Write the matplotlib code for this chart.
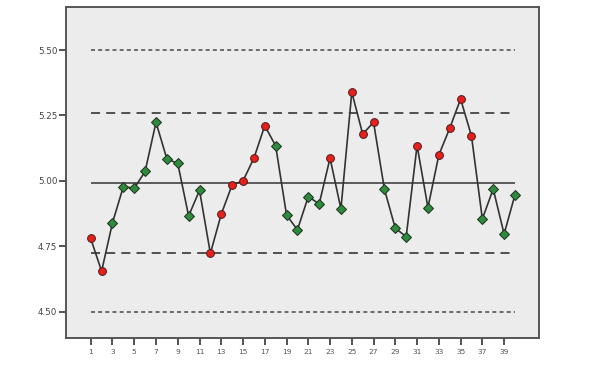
import matplotlib
matplotlib.use("Agg")
import matplotlib.pyplot as plt
import numpy as np

samples = list(range(1, 41))
values = [4.78, 4.655, 4.84, 4.978, 4.972, 5.036, 5.224, 5.084, 5.067, 4.866,
          4.964, 4.723, 4.873, 4.985, 5.00, 5.087, 5.211, 5.134, 4.870, 4.813,
          4.940, 4.912, 5.087, 4.893, 5.339, 5.179, 5.224, 4.968, 4.819, 4.787,
          5.135, 4.898, 5.099, 5.201, 5.313, 5.172, 4.855, 4.969, 4.797, 4.947]
groups = ['r', 'r', 'g', 'g', 'g', 'g', 'g', 'g', 'g', 'g',
          'g', 'r', 'r', 'r', 'r', 'r', 'r', 'g', 'g', 'g',
          'g', 'g', 'r', 'g', 'r', 'r', 'r', 'g', 'g', 'g',
          'r', 'g', 'r', 'r', 'r', 'r', 'g', 'g', 'g', 'g']
center = 4.992
ucl = 5.258
lcl = 4.723
outer_lines = [5.50, 4.50]
yticks = [4.50, 4.75, 5.00, 5.25, 5.50]
ytick_labels = ["4.50", "4.75", "5.00", "5.25", "5.50"]
xticks = list(range(1, 40, 2))

fig = plt.figure(figsize=(6, 3.75), dpi=100)
ax = fig.add_axes([0.1095, 0.0995, 0.7885, 0.8815])
ax.set_facecolor('#ececec')

xs = np.array(samples)
ys = np.array(values)
x0, x1 = samples[0], samples[-1]

for yv in outer_lines:
    ax.hlines(yv, x0, x1, colors='#555555', linewidth=1.2, linestyles=(0, (2.4, 1.9)), zorder=1)
ax.hlines([ucl, lcl], x0, x1, colors='#444444', linewidth=1.3, linestyles=(0, (5, 3.4)), zorder=1)
ax.hlines(center, x0, x1, colors='#333333', linewidth=1.1, zorder=1)

ax.plot(xs, ys, color='#333333', linewidth=1.2, zorder=2)

g = np.array(groups)
ax.plot(xs[g == 'r'], ys[g == 'r'], linestyle='none', marker='o', markersize=5.6,
        markerfacecolor='#e8201c', markeredgecolor='#4a1a1a', markeredgewidth=0.7, zorder=3)
ax.plot(xs[g == 'g'], ys[g == 'g'], linestyle='none', marker='D', markersize=5.0,
        markerfacecolor='#2e8b3e', markeredgecolor='#1a2e1a', markeredgewidth=0.7, zorder=3)

ax.set_xlim(-1.30, 42.19)
ax.set_ylim(4.401, 5.664)
ax.set_xticks(xticks)
ax.set_xticklabels([str(t) for t in xticks], fontsize=5.3, color='#555555')
ax.set_yticks(yticks)
ax.set_yticklabels(ytick_labels, fontsize=6.3, color='#444444')

for s in ax.spines.values():
    s.set_color('#555555')
    s.set_linewidth(1.4)
ax.tick_params(axis='both', direction='out', length=5, width=1.3, color='#444444')
ax.tick_params(axis='y', pad=1)
ax.tick_params(axis='x', pad=3)

fig.savefig('out.png', dpi=100, facecolor='white')
